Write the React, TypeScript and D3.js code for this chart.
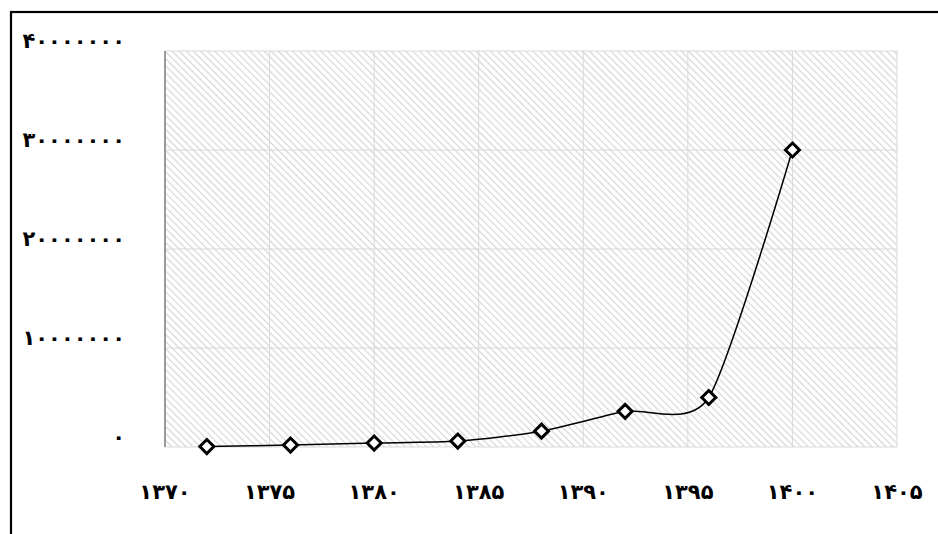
import * as d3 from "d3";

const years = [1372, 1376, 1380, 1384, 1388, 1392, 1396, 1400];
const values = [50000, 200000, 400000, 600000, 1600000, 3600000, 5000000, 30000000];
const xTicks = [1370, 1375, 1380, 1385, 1390, 1395, 1400, 1405];
const yTicks = [0, 10000000, 20000000, 30000000, 40000000];

const W = 938;
const H = 534;
const margin = { top: 51, right: 41, bottom: 87, left: 165 };

const faDigits = "۰۱۲۳۴۵۶۷۸۹";
const toFa = (n: number) => String(n).replace(/\d/g, (d) => faDigits[+d]);

export default function App() {
  const x = d3.scaleLinear().domain([1370, 1405]).range([margin.left, W - margin.right]);
  const y = d3.scaleLinear().domain([0, 40000000]).range([H - margin.bottom, margin.top]);

  const pts = years.map((yr, i) => [x(yr), y(values[i])] as [number, number]);
  const line = d3.line().curve(d3.curveCardinal.tension(0.3));

  const x0 = x(1370), x1 = x(1405), y0 = y(0), y1 = y(40000000);
  const font = "'DejaVu Sans', sans-serif";

  return (
    <svg width={W} height={H} style={{ position: "absolute", left: 0, top: 0 }}>
      <defs>
        <pattern id="hatch" width="5" height="5" patternUnits="userSpaceOnUse" patternTransform="rotate(-45)">
          <rect width="5" height="5" fill="#ffffff" />
          <line x1="0" y1="0" x2="0" y2="5" stroke="#d6d6d6" strokeWidth="2.3" />
        </pattern>
      </defs>
      <rect x={0} y={0} width={W} height={H} fill="#fff" />
      <rect x={11} y={12} width={W} height={H} fill="none" stroke="#000" strokeWidth={2.2} />

      <rect x={x0} y={y1} width={x1 - x0} height={y0 - y1} fill="url(#hatch)" />

      {xTicks.map((t) => (
        <line key={"gx" + t} x1={x(t)} x2={x(t)} y1={y1} y2={y0} stroke="#d9d9d9" strokeWidth={1} />
      ))}
      {yTicks.map((t) => (
        <line key={"gy" + t} x1={x0} x2={x1} y1={y(t)} y2={y(t)} stroke="#d9d9d9" strokeWidth={1} />
      ))}
      <line x1={x0} x2={x0} y1={y1} y2={y0} stroke="#7f7f7f" strokeWidth={1.5} />

      {yTicks.map((t) => (
        <text key={"ly" + t} x={125} y={y(t) - 9} textAnchor="end" dominantBaseline="middle"
          fontFamily={font} fontWeight="bold" fontSize={21} fill="#000">
          {toFa(t)}
        </text>
      ))}
      {xTicks.map((t) => (
        <text key={"lx" + t} x={x(t)} y={493} textAnchor="middle" dominantBaseline="middle"
          fontFamily={font} fontWeight="bold" fontSize={21} fill="#000">
          {toFa(t)}
        </text>
      ))}

      <path d={line(pts) ?? ""} fill="none" stroke="#000" strokeWidth={1.5} />
      {pts.map(([px, py], i) => (
        <path key={"m" + i} d={`M${px},${py - 7}L${px + 7},${py}L${px},${py + 7}L${px - 7},${py}Z`}
          fill="#fff" stroke="#000" strokeWidth={3} />
      ))}
    </svg>
  );
}
